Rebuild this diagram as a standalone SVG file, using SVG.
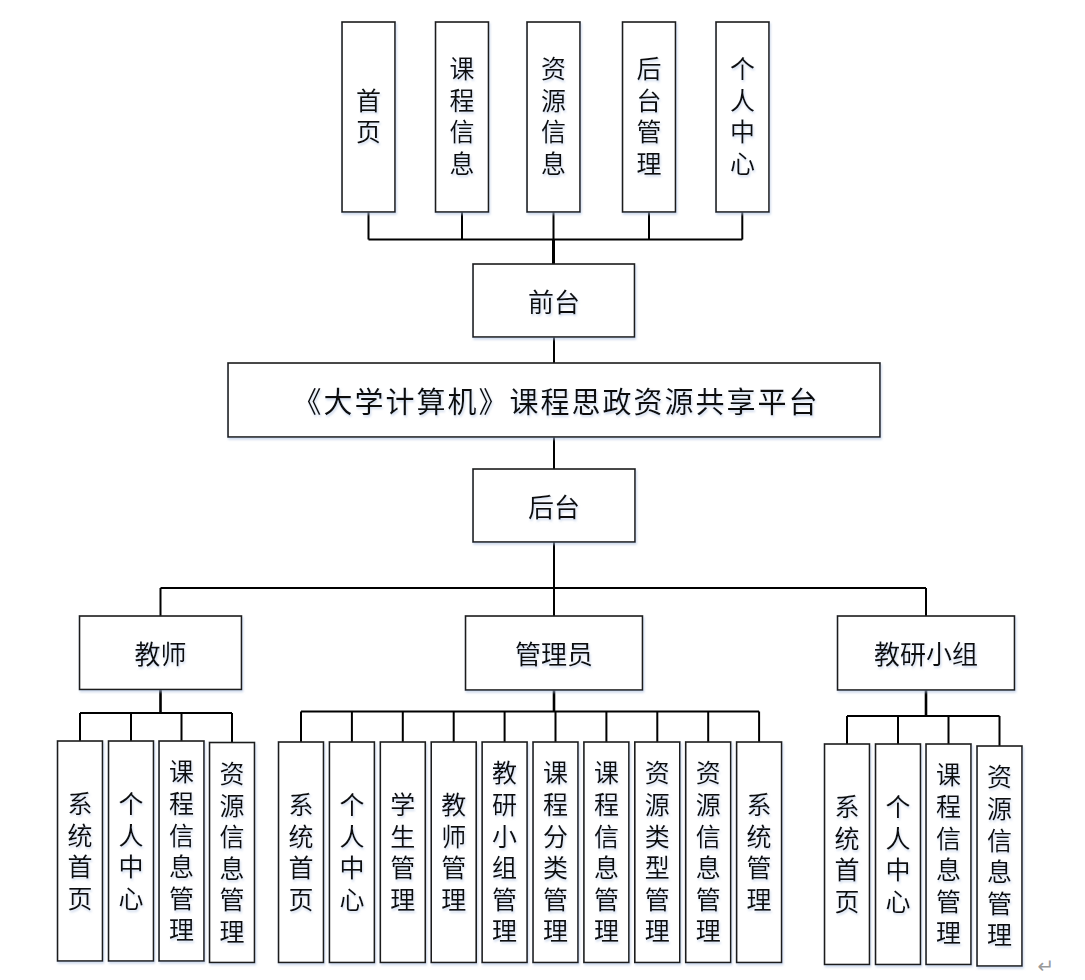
<svg xmlns="http://www.w3.org/2000/svg" width="1085" height="980" viewBox="0 0 1085 980">
<defs>
<filter id="sh" x="-20%" y="-20%" width="140%" height="140%">
<feDropShadow dx="1" dy="2" stdDeviation="1.2" flood-color="#a9bde0" flood-opacity="0.55"/>
</filter>
</defs>
<style>
rect{fill:#fff;stroke:#1a1a1a;stroke-width:1.6}
.b rect{filter:url(#sh)}
text{font-family:"Noto Sans CJK SC","Noto Sans CJK JP",sans-serif;fill:#111;text-anchor:middle;font-size:25px;filter:url(#sh)}
.h,.t{dominant-baseline:central}
.h{font-size:26px}
.t{font-size:29px;letter-spacing:2px}
.v{writing-mode:vertical-rl;letter-spacing:6.6px}
#conn path{fill:none;stroke:#000;stroke-width:2}
</style>
<rect x="0" y="0" width="1085" height="980" style="fill:#fff;stroke:none"/>
<g id="conn">
<path d="M368.5 212V239.5M462 212V239.5M553.5 212V239.5M649 212V239.5M742.3 212V239.5M368.5 239.5H742.3"/>
<path d="M553.5 239.5V264" style="stroke-width:3"/>
<path d="M554 337V363M554 437V469M554 542V588M160.5 588H926M160.5 588V616M554 588V616M926 588V616"/>
<path d="M160.5 690V713" style="stroke-width:2.6"/>
<path d="M80 713H232M80 713V741M131 713V741M181.5 713V741M232 713V742.5"/>
<path d="M554 690V711.5" style="stroke-width:2.6"/>
<path d="M301 711.5H759.1M301 711.5V742M351.9 711.5V742M402.8 711.5V742M453.7 711.5V742M504.6 711.5V742M555.5 711.5V742M606.4 711.5V742M657.3 711.5V742M708.2 711.5V742M759.1 711.5V742"/>
<path d="M926 690V716" style="stroke-width:2.6"/>
<path d="M847 716H999.5M847 716V744M898 716V744M948.5 716V744M999.5 716V746"/>
</g>
<g id="n_shouye" class="b"><rect x="342" y="22" width="53" height="190"/><text class="v" x="368.5" y="119.2">首页</text></g>
<g id="n_kcxx" class="b"><rect x="435.5" y="22" width="53" height="190"/><text class="v" x="462" y="119.2">课程信息</text></g>
<g id="n_zyxx" class="b"><rect x="527" y="22" width="53" height="190"/><text class="v" x="553.5" y="119.2">资源信息</text></g>
<g id="n_htgl" class="b"><rect x="622.5" y="22" width="53" height="190"/><text class="v" x="649" y="119.2">后台管理</text></g>
<g id="n_grzx" class="b"><rect x="716" y="22" width="53" height="190"/><text class="v" x="742.5" y="119.2">个人中心</text></g>
<g id="n_qiantai" class="b"><rect x="473" y="264" width="161.5" height="73"/><text class="h" x="554" y="300.5">前台</text></g>
<g id="n_platform" class="b"><rect x="228" y="363" width="652" height="74"/><text class="t" x="556" y="400">《大学计算机》课程思政资源共享平台</text></g>
<g id="n_houtai" class="b"><rect x="473" y="469" width="162" height="73"/><text class="h" x="554" y="505.5">后台</text></g>
<g id="n_jiaoshi" class="b"><rect x="79.5" y="616" width="162" height="73.5"/><text class="h" x="160.5" y="652.5">教师</text></g>
<g id="n_admin" class="b"><rect x="465.5" y="616" width="177" height="74"/><text class="h" x="554" y="652.5">管理员</text></g>
<g id="n_jyxz" class="b"><rect x="837.5" y="616" width="177" height="74"/><text class="h" x="926" y="652.5">教研小组</text></g>
<g id="t_xtsy" class="b"><rect x="57.5" y="741" width="45" height="220"/><text class="v" x="80" y="854.3">系统首页</text></g>
<g id="t_grzx" class="b"><rect x="108.5" y="741" width="45" height="220"/><text class="v" x="131" y="854.3">个人中心</text></g>
<g id="t_kcxxgl" class="b"><rect x="159" y="741" width="45" height="220"/><text class="v" x="181.5" y="854.3">课程信息管理</text></g>
<g id="t_zyxxgl" class="b"><rect x="209.5" y="742.5" width="45" height="220"/><text class="v" x="232" y="855.8">资源信息管理</text></g>
<g id="a_xtsy" class="b"><rect x="278.5" y="742" width="45" height="220.5"/><text class="v" x="301" y="855.3">系统首页</text></g>
<g id="a_grzx" class="b"><rect x="329.4" y="742" width="45" height="220.5"/><text class="v" x="351.9" y="855.3">个人中心</text></g>
<g id="a_xsgl" class="b"><rect x="380.3" y="742" width="45" height="220.5"/><text class="v" x="402.8" y="855.3">学生管理</text></g>
<g id="a_jsgl" class="b"><rect x="431.2" y="742" width="45" height="220.5"/><text class="v" x="453.7" y="855.3">教师管理</text></g>
<g id="a_jyxzgl" class="b"><rect x="482.1" y="742" width="45" height="220.5"/><text class="v" x="504.6" y="855.3">教研小组管理</text></g>
<g id="a_kcflgl" class="b"><rect x="533" y="742" width="45" height="220.5"/><text class="v" x="555.5" y="855.3">课程分类管理</text></g>
<g id="a_kcxxgl" class="b"><rect x="583.9" y="742" width="45" height="220.5"/><text class="v" x="606.4" y="855.3">课程信息管理</text></g>
<g id="a_zylxgl" class="b"><rect x="634.8" y="742" width="45" height="220.5"/><text class="v" x="657.3" y="855.3">资源类型管理</text></g>
<g id="a_zyxxgl" class="b"><rect x="685.7" y="742" width="45" height="220.5"/><text class="v" x="708.2" y="855.3">资源信息管理</text></g>
<g id="a_xtgl" class="b"><rect x="736.6" y="742" width="45" height="220.5"/><text class="v" x="759.1" y="855.3">系统管理</text></g>
<g id="g_xtsy" class="b"><rect x="824.5" y="744" width="45" height="220.5"/><text class="v" x="847" y="857.3">系统首页</text></g>
<g id="g_grzx" class="b"><rect x="875.5" y="744" width="45" height="220.5"/><text class="v" x="898" y="857.3">个人中心</text></g>
<g id="g_kcxxgl" class="b"><rect x="926" y="744" width="45" height="220.5"/><text class="v" x="948.5" y="857.3">课程信息管理</text></g>
<g id="g_zyxxgl" class="b"><rect x="977" y="746" width="45" height="220"/><text class="v" x="999.5" y="859.3">资源信息管理</text></g>
<text x="1046" y="966" style="font-family:'DejaVu Sans',sans-serif;font-size:20px;fill:#9a9a9a;filter:none;dominant-baseline:central">↵</text>
</svg>
